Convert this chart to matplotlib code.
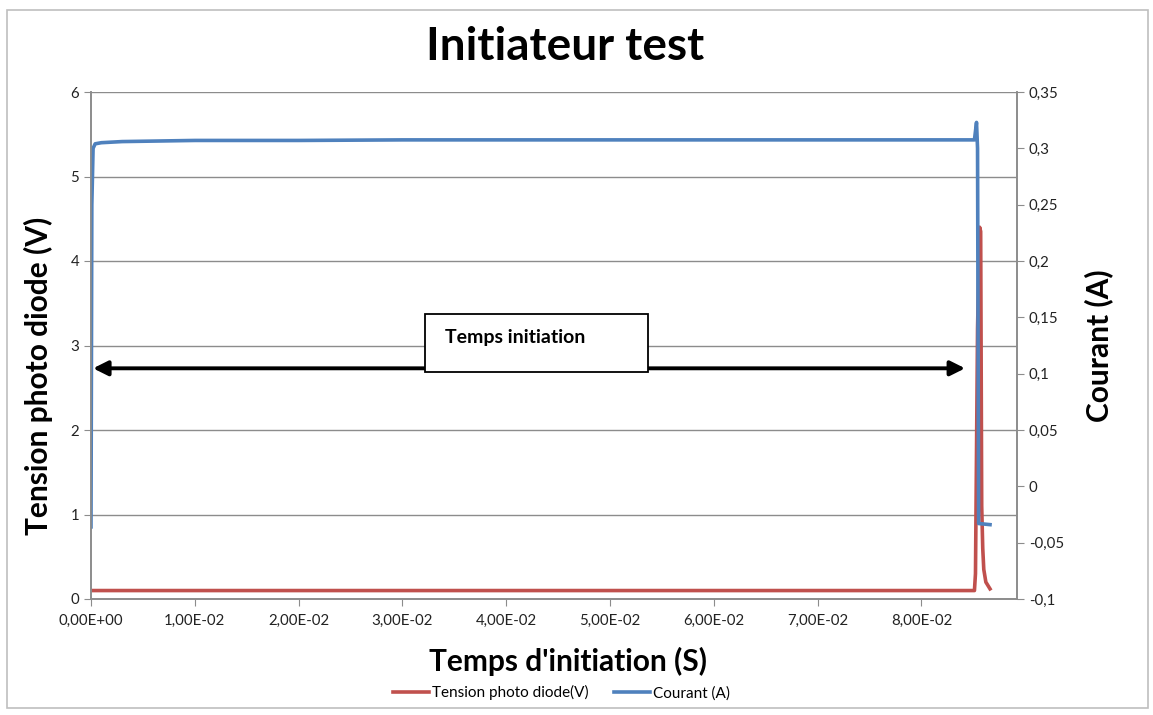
import matplotlib
matplotlib.use("Agg")
import matplotlib.pyplot as plt
from matplotlib.patches import Rectangle

plt.rcParams['font.family'] = ['Lato', 'DejaVu Sans']

# Tension photo diode (V), left axis
t_tension = [0.0, 0.0200, 0.0400, 0.0600, 0.0800, 0.0851, 0.0852, 0.0854, 0.0856,
             0.0857, 0.0858, 0.0859, 0.0860, 0.0862, 0.0866]
tension = [0.10, 0.10, 0.10, 0.10, 0.10, 0.10, 0.30, 3.20, 4.40,
           4.35, 1.10, 0.60, 0.35, 0.20, 0.12]

# Courant (A), right axis
t_courant = [0.0, 0.00008, 0.0002, 0.0004, 0.0010, 0.0030, 0.0100, 0.0200, 0.0300,
             0.0400, 0.0500, 0.0600, 0.0700, 0.0800, 0.0851, 0.0853, 0.0854, 0.0855, 0.0866]
courant = [-0.036, 0.250, 0.300, 0.304, 0.305, 0.306, 0.307, 0.307, 0.3075,
           0.3075, 0.3075, 0.3075, 0.3075, 0.3075, 0.3075, 0.323, 0.300, -0.033, -0.034]

x_ticks = [0.0, 0.01, 0.02, 0.03, 0.04, 0.05, 0.06, 0.07, 0.08]
x_labels = ['0,00E+00', '1,00E-02', '2,00E-02', '3,00E-02', '4,00E-02',
            '5,00E-02', '6,00E-02', '7,00E-02', '8,00E-02']
yl_ticks = [0, 1, 2, 3, 4, 5, 6]
yr_ticks = [-0.1, -0.05, 0.0, 0.05, 0.1, 0.15, 0.2, 0.25, 0.3, 0.35]
yr_labels = ['-0,1', '-0,05', '0', '0,05', '0,1', '0,15', '0,2', '0,25', '0,3', '0,35']

red = '#C0504D'
blue = '#4F81BD'
grid_c = '#8C8C8C'

fig = plt.figure(figsize=(11.53, 7.15), dpi=100)

# chart area border
fig.patches.append(Rectangle((7/1153, 7/715), 1141/1153, 698/715, transform=fig.transFigure,
                             fill=False, edgecolor='#BFBFBF', lw=1.2))

ax = fig.add_axes([91/1153, 116/715, 926/1153, 507/715])
ax2 = ax.twinx()

l1, = ax.plot(t_tension, tension, color=red, lw=2.6, solid_joinstyle='round')
l2, = ax2.plot(t_courant, courant, color=blue, lw=2.6, solid_joinstyle='round')

ax.set_xlim(0, 0.0892)
ax.set_ylim(0, 6)
ax2.set_ylim(-0.1, 0.35)

ax.set_xticks(x_ticks)
ax.set_xticklabels(x_labels)
ax.set_yticks(yl_ticks)
ax2.set_yticks(yr_ticks)
ax2.set_yticklabels(yr_labels)

ax.yaxis.grid(True, color=grid_c, lw=1)
ax.set_axisbelow(True)
for a in (ax, ax2):
    a.spines['top'].set_visible(False)
    for s in ('left', 'bottom', 'right'):
        a.spines[s].set_color(grid_c)
        a.spines[s].set_linewidth(1.2)
    a.tick_params(colors=grid_c, labelcolor='#222222', labelsize=10.8, length=5, direction='out')
ax.tick_params(axis='x', pad=6)

ax.set_xlabel("Temps d'initiation (S)", fontsize=21.5, fontweight='bold')
ax.xaxis.set_label_coords(0.515, -0.095)
ax.set_ylabel("Tension photo diode (V)", fontsize=21.5, fontweight='bold')
ax.yaxis.set_label_coords(-0.041, 0.44)
ax2.set_ylabel("Courant (A)", fontsize=21.5, fontweight='bold')
ax2.yaxis.set_label_coords(1.072, 0.50)

fig.text(0.490, 0.934, "Initiateur test", ha='center', va='center',
         fontsize=33, fontweight='bold')

# double arrow for the initiation time
ax.annotate('', xy=(0.0002, 2.73), xytext=(0.0842, 2.73),
            arrowprops=dict(arrowstyle='<|-|>', color='black', lw=2.8,
                            mutation_scale=22, shrinkA=0, shrinkB=0))
ax.add_patch(Rectangle((0.361, 0.448), 0.240, 0.114, transform=ax.transAxes,
                       facecolor='white', edgecolor='black', lw=1.3, zorder=5))
ax.text(0.382, 0.515, "Temps initiation", transform=ax.transAxes, ha='left', va='center',
        fontsize=14, fontweight='bold', zorder=6)

fig.legend([l1, l2], ["Tension photo diode(V)", "Courant (A)"], loc='center',
           bbox_to_anchor=(0.487, 0.031), ncol=2, frameon=False, fontsize=11,
           handlelength=2.4, columnspacing=1.6, handletextpad=0.2)

fig.savefig('out.png', dpi=100)
